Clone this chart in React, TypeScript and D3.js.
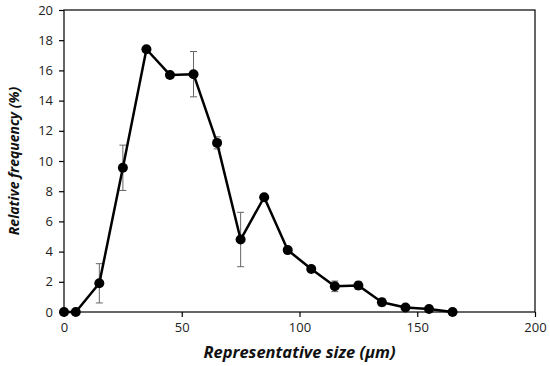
import React, { useEffect, useRef } from "react";
import * as d3 from "d3";

const sizes = [0, 5, 15, 25, 35, 45, 55, 65, 75, 85, 95, 105, 115, 125, 135, 145, 155, 165];
const frequency = [0, 0, 1.9, 9.55, 17.4, 15.7, 15.75, 11.2, 4.8, 7.6, 4.1, 2.85, 1.7, 1.75, 0.65, 0.3, 0.2, 0];
const errors = [0, 0, 1.3, 1.5, 0, 0, 1.5, 0.4, 1.8, 0, 0, 0.15, 0.35, 0.25, 0.25, 0.1, 0.05, 0];
const xTicks = [0, 50, 100, 150, 200];
const yTicks = [0, 2, 4, 6, 8, 10, 12, 14, 16, 18, 20];

const WIDTH = 550;
const HEIGHT = 366;
const M = { left: 64, right: 15, top: 10, bottom: 54 };
const FONT = "'Open Sans', sans-serif";

export default function App() {
  const ref = useRef<SVGSVGElement>(null);

  useEffect(() => {
    if (!ref.current) return;
    const svg = d3.select(ref.current);
    svg.selectAll("*").remove();

    const x = d3.scaleLinear().domain([0, 200]).range([M.left, WIDTH - M.right]);
    const y = d3.scaleLinear().domain([0, 20]).range([HEIGHT - M.bottom, M.top]);

    const data = sizes.map((s, i) => ({ s, v: frequency[i], e: errors[i] }));

    // frame
    svg
      .append("rect")
      .attr("x", x(0))
      .attr("y", y(20))
      .attr("width", x(200) - x(0))
      .attr("height", y(0) - y(20))
      .attr("fill", "none")
      .attr("stroke", "#000")
      .attr("stroke-width", 1.2);

    const xAxis = svg
      .append("g")
      .attr("transform", `translate(0,${y(0)})`)
      .call(d3.axisBottom(x).tickValues(xTicks).tickSize(5).tickPadding(6));
    xAxis.select(".domain").remove();
    xAxis.selectAll("line").attr("stroke-width", 1.2);
    xAxis.selectAll("text").attr("font-family", FONT).attr("font-size", 13).attr("fill", "#222");

    const yAxis = svg
      .append("g")
      .attr("transform", `translate(${x(0)},0)`)
      .call(d3.axisLeft(y).tickValues(yTicks).tickSize(5).tickPadding(6));
    yAxis.select(".domain").remove();
    yAxis.selectAll("line").attr("stroke-width", 1.2);
    yAxis.selectAll("text").attr("font-family", FONT).attr("font-size", 13).attr("fill", "#222");

    // error bars
    const eb = svg
      .append("g")
      .selectAll("g")
      .data(data.filter((d) => d.e > 0))
      .enter()
      .append("g")
      .attr("stroke", "#666")
      .attr("stroke-width", 1);
    eb.append("line")
      .attr("x1", (d) => x(d.s))
      .attr("x2", (d) => x(d.s))
      .attr("y1", (d) => y(d.v - d.e))
      .attr("y2", (d) => y(d.v + d.e));
    eb.append("line")
      .attr("x1", (d) => x(d.s) - 3.5)
      .attr("x2", (d) => x(d.s) + 3.5)
      .attr("y1", (d) => y(d.v - d.e))
      .attr("y2", (d) => y(d.v - d.e));
    eb.append("line")
      .attr("x1", (d) => x(d.s) - 3.5)
      .attr("x2", (d) => x(d.s) + 3.5)
      .attr("y1", (d) => y(d.v + d.e))
      .attr("y2", (d) => y(d.v + d.e));

    const line = d3
      .line<{ s: number; v: number }>()
      .x((d) => x(d.s))
      .y((d) => y(d.v));

    svg
      .append("path")
      .datum(data)
      .attr("d", line)
      .attr("fill", "none")
      .attr("stroke", "#000")
      .attr("stroke-width", 2.5)
      .attr("stroke-linejoin", "round");

    svg
      .append("g")
      .selectAll("circle")
      .data(data)
      .enter()
      .append("circle")
      .attr("cx", (d) => x(d.s))
      .attr("cy", (d) => y(d.v))
      .attr("r", 5)
      .attr("fill", "#000");

    svg
      .append("text")
      .attr("x", (x(0) + x(200)) / 2)
      .attr("y", 358)
      .attr("text-anchor", "middle")
      .attr("font-family", FONT)
      .attr("font-size", 16.5)
      .attr("font-weight", 700)
      .attr("font-style", "italic")
      .attr("fill", "#111")
      .text("Representative size (μm)");

    svg
      .append("text")
      .attr("transform", `translate(19,${(y(0) + y(20)) / 2}) rotate(-90)`)
      .attr("text-anchor", "middle")
      .attr("font-family", FONT)
      .attr("font-size", 14)
      .attr("font-weight", 700)
      .attr("font-style", "italic")
      .attr("fill", "#111")
      .text("Relative frequency (%)");
  }, []);

  return (
    <svg
      ref={ref}
      width={WIDTH}
      height={HEIGHT}
      style={{ position: "absolute", left: 0, top: 0, background: "#fff" }}
    />
  );
}
